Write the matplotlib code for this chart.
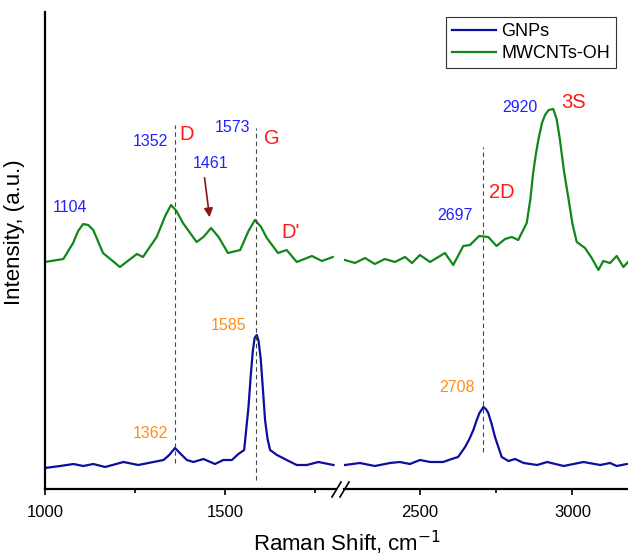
#!/usr/bin/env python3
import matplotlib
matplotlib.use('Agg')
import matplotlib.pyplot as plt
from matplotlib.lines import Line2D

plt.rcParams['font.family'] = ['Liberation Sans', 'DejaVu Sans']

# --- data (arbitrary intensity units) ---
gnp_x_left = [1000, 1042, 1079, 1106, 1134, 1167, 1218, 1259, 1301, 1329, 1345, 1361, 1377, 1394,
              1412, 1440, 1472, 1495, 1519, 1537, 1553, 1565, 1571, 1577, 1582, 1588, 1593, 1599,
              1605, 1611, 1618, 1625, 1644, 1671, 1699, 1727, 1759, 1801]
gnp_y_left = [21, 23, 25, 23, 25, 22, 27, 24, 27, 29, 34, 41, 35, 29,
              27, 30, 25, 29, 29, 35, 39, 82, 112, 138, 151, 154, 148, 130,
              100, 69, 50, 39, 34, 29, 24, 24, 27, 24]
gnp_x_right = [2254, 2303, 2352, 2402, 2434, 2467, 2500, 2533, 2576, 2604, 2625, 2648, 2662, 2675,
               2685, 2695, 2708, 2716, 2724, 2735, 2746, 2768, 2790, 2812, 2840, 2884, 2917, 2971,
               3036, 3091, 3123, 3145, 3178]
gnp_y_right = [24, 26, 23, 26, 27, 25, 29, 27, 27, 30, 32, 42, 50, 59,
               68, 76, 82, 80, 76, 65, 52, 32, 28, 30, 26, 24, 27, 23,
               27, 24, 26, 23, 25]

cnt_x_left = [1000, 1051, 1078, 1092, 1106, 1120, 1134, 1161, 1208, 1255, 1272, 1310, 1335, 1350,
              1365, 1383, 1421, 1440, 1461, 1482, 1508, 1542, 1565, 1583, 1600, 1616, 1647, 1671,
              1699, 1741, 1769, 1799]
cnt_y_left = [227, 230, 246, 258, 265, 264, 259, 236, 222, 235, 232, 252, 274, 284,
              278, 266, 247, 252, 261, 252, 236, 239, 258, 269, 262, 251, 236, 239,
              227, 233, 228, 232]
cnt_x_right = [2254, 2287, 2320, 2352, 2385, 2418, 2451, 2474, 2500, 2533, 2582, 2609, 2642, 2664,
               2694, 2724, 2751, 2779, 2801, 2822, 2850, 2862, 2871, 2880, 2888, 2900, 2910, 2922,
               2937, 2948, 2959, 2972, 2986, 3000, 3014, 3041, 3063, 3085, 3101, 3123, 3145, 3167, 3182]
cnt_y_right = [229, 226, 231, 225, 230, 227, 232, 226, 234, 227, 236, 224, 243, 244,
               253, 252, 243, 250, 252, 249, 266, 290, 316, 335, 349, 366, 374, 379,
               380, 370, 349, 318, 292, 265, 247, 241, 231, 219, 228, 226, 233, 222, 227]

# dashed guide lines: position, bottom, top
guide_x = [1362, 1585, 2708]
guide_lo = [26, 9, 37]
guide_hi = [364, 361, 342]

blue_line = '#0d0d9e'
green_line = '#11871a'
blue_txt = '#2222ff'
red_txt = '#ff1a1a'
orange_txt = '#ff8c1a'

fig = plt.figure(figsize=(6.28, 5.58), dpi=100)
W, H = 628.0, 558.0
bottom, top = 1 - 489 / H, 1 - 12 / H
axL = fig.add_axes([45 / W, bottom, (336 - 45) / W, top - bottom])
axR = fig.add_axes([344 / W, bottom, (628 - 344) / W, top - bottom], sharey=axL)

hg, = axL.plot(gnp_x_left, gnp_y_left, color=blue_line, lw=1.6, solid_joinstyle='round', label='GNPs')
hc, = axL.plot(cnt_x_left, cnt_y_left, color=green_line, lw=1.6, solid_joinstyle='round', label='MWCNTs-OH')
axR.plot(gnp_x_right, gnp_y_right, color=blue_line, lw=1.6, solid_joinstyle='round')
axR.plot(cnt_x_right, cnt_y_right, color=green_line, lw=1.6, solid_joinstyle='round')

for gx, lo, hi in zip(guide_x, guide_lo, guide_hi):
    ax = axL if gx < 2000 else axR
    ax.plot([gx, gx], [lo, hi], color='#444444', lw=0.8, ls=(0, (4, 3)))

axL.set_xlim(1000, 1808)
axR.set_xlim(2251, 3182)
axL.set_ylim(0, 477)
axL.set_xticks([1000, 1500])
axL.set_xticks([1250, 1750], minor=True)
axR.set_xticks([2500, 3000])
axR.set_xticks([2750], minor=True)

for ax in (axL, axR):
    for s in ('top', 'right'):
        ax.spines[s].set_visible(False)
    ax.spines['bottom'].set_linewidth(1.6)
    ax.spines['left'].set_linewidth(1.6)
    ax.tick_params(axis='x', which='major', direction='out', length=4.5, width=1.2,
                   labelsize=12, pad=7)
    ax.tick_params(axis='x', which='minor', direction='out', length=3, width=1.2)
    ax.tick_params(axis='y', left=False, labelleft=False)
axR.spines['left'].set_visible(False)

# labels of peaks
fs_num = 11.5
fs_big = 14.5
axL.text(1069, 282, '1104', color=blue_txt, fontsize=fs_num, ha='center', va='center')
axL.text(1292, 348, '1352', color=blue_txt, fontsize=fs_num, ha='center', va='center')
axL.text(1394, 354, 'D', color=red_txt, fontsize=fs_big, ha='center', va='center')
axL.text(1521, 362, '1573', color=blue_txt, fontsize=fs_num, ha='center', va='center')
axL.text(1631, 350, 'G', color=red_txt, fontsize=fs_big, ha='center', va='center')
axL.text(1460, 326, '1461', color=blue_txt, fontsize=fs_num, ha='center', va='center')
axL.text(1681, 256, "D'", color=red_txt, fontsize=fs_big, ha='center', va='center')
axL.annotate('', xy=(1458, 269), xytext=(1442, 314),
             arrowprops=dict(arrowstyle='-|>', color='#8b1414', lw=1.2, mutation_scale=13))
axR.text(2615, 273, '2697', color=blue_txt, fontsize=fs_num, ha='center', va='center')
axR.text(2768, 296, '2D', color=red_txt, fontsize=fs_big, ha='center', va='center')
axR.text(2826, 382, '2920', color=blue_txt, fontsize=fs_num, ha='center', va='center')
axR.text(3003, 386, '3S', color=red_txt, fontsize=fs_big, ha='center', va='center')
axL.text(1292, 56, '1362', color=orange_txt, fontsize=fs_num, ha='center', va='center')
axL.text(1509, 164, '1585', color=orange_txt, fontsize=fs_num, ha='center', va='center')
axR.text(2620, 102, '2708', color=orange_txt, fontsize=fs_num, ha='center', va='center')

# axis break marks
for x0 in (332, 340):
    fig.add_artist(Line2D([x0 / W, (x0 + 9) / W], [1 - 497 / H, 1 - 482 / H],
                          color='black', lw=1.2, transform=fig.transFigure))

fig.text(347 / W, 1 - 543 / H, 'Raman Shift, cm$^{-1}$', fontsize=16, ha='center', va='center')
fig.text(15 / W, 1 - 232 / H, 'Intensity, (a.u.)', fontsize=16, rotation=90, ha='center', va='center')

leg = fig.legend(handles=[hg, hc], loc='upper left', bbox_to_anchor=(446 / W, 1 - 17 / H),
                 fontsize=13, frameon=True, fancybox=False, framealpha=1,
                 borderpad=0.35, labelspacing=0.25, handlelength=2.4, handletextpad=0.3,
                 borderaxespad=0)
leg.get_frame().set_edgecolor('#333333')
leg.get_frame().set_linewidth(0.8)

plt.savefig('out.png', dpi=100)
plt.close('all')
